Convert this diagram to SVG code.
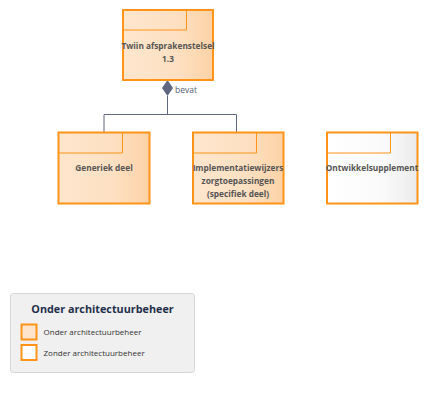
<svg xmlns="http://www.w3.org/2000/svg" width="427" height="402" viewBox="0 0 427 402">
<defs>
<linearGradient id="gOrange" x1="0" y1="0" x2="1" y2="0">
<stop offset="0" stop-color="#fee6cd"/>
<stop offset="0.6" stop-color="#fde0c2"/>
<stop offset="1" stop-color="#fcd2a6"/>
</linearGradient>
<linearGradient id="gWhite" x1="0" y1="0" x2="1" y2="0">
<stop offset="0" stop-color="#ffffff"/>
<stop offset="0.6" stop-color="#fbfbfb"/>
<stop offset="1" stop-color="#ebebeb"/>
</linearGradient>
<style>
.box{stroke:#ff9419;stroke-width:2}
.tab{fill:none;stroke:#ff9419;stroke-width:1}
.lbl{font-family:"Open Sans","Liberation Sans",sans-serif;font-weight:bold;font-size:8.3px;fill:#555555;text-anchor:middle}
.conn{stroke:#5f6880;stroke-width:1;fill:none}
.leg{font-family:"Open Sans","Liberation Sans",sans-serif;font-size:8px;fill:#333333}
</style>
</defs>
<rect width="427" height="402" fill="#ffffff"/>
<g id="connectors">
<polyline class="conn" points="104,132 104,114.5 236.5,114.5 236.5,132"/>
<line class="conn" x1="167.5" y1="96" x2="167.5" y2="114.5"/>
<polygon points="167.5,80 173,88 167.5,96 162,88" fill="#5f6880"/>
<text x="175" y="92.5" font-family="'Open Sans','Liberation Sans',sans-serif" font-size="8.5px" fill="#555e75">bevat</text>
</g>
<g id="node-twiin">
<rect class="box" x="123" y="10" width="90" height="70" fill="url(#gOrange)"/>
<polyline class="tab" points="123,30 186.5,30 186.5,10"/>
<text class="lbl" x="168" y="48.5">Twiin afsprakenstelsel</text>
<text class="lbl" x="168" y="62">1.3</text>
</g>
<g id="node-generiek">
<rect class="box" x="58.5" y="132.5" width="91" height="71" fill="url(#gOrange)"/>
<polyline class="tab" points="58.5,153 122.5,153 122.5,132.5"/>
<text class="lbl" x="104" y="171">Generiek deel</text>
</g>
<g id="node-implementatie">
<rect class="box" x="193" y="132.5" width="90.5" height="71" fill="url(#gOrange)"/>
<polyline class="tab" points="193,153 256.5,153 256.5,132.5"/>
<text class="lbl" x="238" y="171">Implementatiewijzers</text>
<text class="lbl" x="238" y="183.5">zorgtoepassingen</text>
<text class="lbl" x="238" y="196.5">(specifiek deel)</text>
</g>
<g id="node-ontwikkel">
<rect class="box" x="327" y="132.5" width="90.5" height="71" fill="url(#gWhite)"/>
<polyline class="tab" points="327,153 390.5,153 390.5,132.5"/>
<text class="lbl" x="372" y="171">Ontwikkelsupplement</text>
</g>
<g id="legend">
<rect x="10.5" y="293.5" width="184" height="79" rx="3" fill="#f0f0f0" stroke="#d6d6d6"/>
<text x="102.5" y="312.5" font-family="'Open Sans','Liberation Sans',sans-serif" font-weight="bold" font-size="10.8px" fill="#1f2f4a" text-anchor="middle">Onder architectuurbeheer</text>
<rect x="21.5" y="324.5" width="15" height="15" fill="#fde4cb" stroke="#ff9419" stroke-width="2"/>
<text class="leg" x="43.5" y="335">Onder architectuurbeheer</text>
<rect x="21.5" y="345" width="15" height="15" fill="#ffffff" stroke="#ff9419" stroke-width="2"/>
<text class="leg" x="43.5" y="356">Zonder architectuurbeheer</text>
</g>
</svg>
